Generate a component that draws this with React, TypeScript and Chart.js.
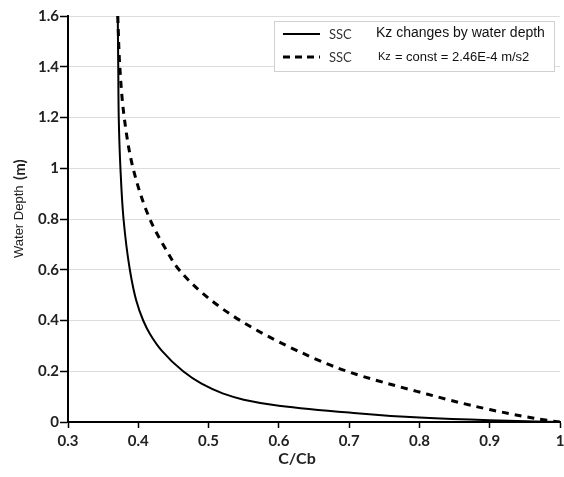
import React, { useEffect, useRef } from "react";
import { Chart, registerables } from "chart.js";

Chart.register(...registerables);

// Solid: SSC, Kz changes by water depth
const solidC = [0.3708, 0.3715, 0.3722, 0.3746, 0.379, 0.388, 0.397, 0.407, 0.4164, 0.433, 0.4638, 0.49, 0.5208, 0.55, 0.6, 0.7, 0.8, 0.9, 1.0];
const solidDepth = [1.6, 1.4, 1.2, 1.0, 0.8, 0.6, 0.48, 0.4, 0.348, 0.2825, 0.2, 0.151, 0.112, 0.088, 0.064, 0.037, 0.0173, 0.0067, 0.0];

// Dashed: SSC, Kz = const
const dashedC = [0.3708, 0.3737, 0.38, 0.3926, 0.4164, 0.44, 0.458, 0.4947, 0.545, 0.625, 0.7, 0.8, 0.9, 0.9815, 1.0];
const dashedDepth = [1.6, 1.4, 1.2, 1.0, 0.8, 0.677, 0.6, 0.5, 0.4, 0.2825, 0.197, 0.118, 0.049, 0.0067, 0.0];

const xTitle = "C/Cb";
const yTitleMain = "Water Depth";
const yTitleUnit = "(m)";
const legendSeries = ["SSC", "SSC"];
const legendDesc = ["Kz changes by water depth", "= const = 2.46E-4 m/s2"];
const legendKz = "Kz";

const toPts = (xs: number[], ys: number[]) => xs.map((x, i) => ({ x, y: ys[i] }));
const fmt = (v: any) => String(Math.round(Number(v) * 10) / 10);

const decorPlugin = {
  id: "decor",
  afterDraw(chart: any) {
    const ctx = chart.ctx as CanvasRenderingContext2D;
    ctx.save();
    // X axis title
    ctx.fillStyle = "#222";
    ctx.font = "bold 16px Lato";
    ctx.textAlign = "center";
    ctx.textBaseline = "middle";
    ctx.fillText(xTitle, 297, 459);

    // Y axis title (mixed font)
    ctx.save();
    ctx.translate(19, 258);
    ctx.rotate(-Math.PI / 2);
    ctx.textAlign = "left";
    ctx.textBaseline = "middle";
    ctx.font = "13px 'Liberation Sans'";
    ctx.fillStyle = "#222";
    ctx.fillText(yTitleMain, 0, 0);
    const w = ctx.measureText(yTitleMain + " ").width;
    ctx.font = "bold 15px Lato";
    ctx.fillText(yTitleUnit, w + 2, 1);
    ctx.restore();

    // Legend box
    const lx = 274, ly = 21, lw = 280, lh = 50;
    ctx.fillStyle = "#fff";
    ctx.fillRect(lx, ly, lw, lh);
    ctx.strokeStyle = "#d0d0d0";
    ctx.lineWidth = 1;
    ctx.strokeRect(lx + 0.5, ly + 0.5, lw, lh);

    const rows = [34, 57];
    rows.forEach((ry, i) => {
      ctx.beginPath();
      ctx.strokeStyle = "#000";
      ctx.lineWidth = i === 0 ? 2 : 3;
      ctx.setLineDash(i === 0 ? [] : [7, 5]);
      ctx.moveTo(283, ry);
      ctx.lineTo(320, ry);
      ctx.stroke();
      ctx.setLineDash([]);
      ctx.fillStyle = "#333";
      ctx.font = "13px Lato";
      ctx.textAlign = "left";
      ctx.textBaseline = "middle";
      ctx.fillText(legendSeries[i], 329, ry + 1);
    });
    ctx.fillStyle = "#111";
    ctx.font = "14px 'Liberation Sans'";
    ctx.fillText(legendDesc[0], 376, rows[0] - 1);
    ctx.font = "11px 'Liberation Sans'";
    ctx.fillText(legendKz, 378, rows[1]);
    const kw = ctx.measureText(legendKz + " ").width;
    ctx.font = "13px 'Liberation Sans'";
    ctx.fillText(legendDesc[1], 378 + kw + 1, rows[1]);
    ctx.restore();
  },
};

export default function App() {
  const ref = useRef<HTMLCanvasElement>(null);
  useEffect(() => {
    document.body.style.margin = "0";
    const chart = new Chart(ref.current!, {
      type: "line",
      data: {
        datasets: [
          {
            label: "SSC Kz changes by water depth",
            data: toPts(solidC, solidDepth),
            borderColor: "#000",
            borderWidth: 2,
            pointRadius: 0,
            fill: false,
            cubicInterpolationMode: "monotone",
          },
          {
            label: "SSC Kz = const",
            data: toPts(dashedC, dashedDepth),
            borderColor: "#000",
            borderWidth: 3,
            borderDash: [7, 6],
            pointRadius: 0,
            fill: false,
            cubicInterpolationMode: "monotone",
          },
        ],
      },
      options: {
        indexAxis: "y",
        animation: false,
        responsive: false,
        maintainAspectRatio: false,
        layout: { padding: { top: 16, right: 4, left: 0, bottom: 0 } },
        plugins: { legend: { display: false }, tooltip: { enabled: false } },
        scales: {
          x: {
            type: "linear",
            min: 0.3,
            max: 1,
            ticks: {
              stepSize: 0.1,
              color: "#222",
              font: { family: "Lato", size: 15, weight: "bold" },
              padding: 4,
              callback: fmt,
            },
            grid: { drawOnChartArea: false, drawTicks: true, tickLength: 6, tickColor: "#000", tickWidth: 1.5 },
            border: { color: "#000", width: 2 },
            afterFit: (s: any) => { s.height = 55; s.paddingRight = 0; s.paddingLeft = 0; },
          },
          y: {
            type: "linear",
            min: 0,
            max: 1.6,
            ticks: {
              stepSize: 0.2,
              color: "#222",
              font: { family: "Lato", size: 15, weight: "bold" },
              padding: 1,
              callback: fmt,
            },
            grid: { color: "#dcdcdc", lineWidth: 1, tickLength: 8, tickColor: "#000", tickWidth: 1.5 },
            border: { color: "#000", width: 2 },
            afterFit: (s: any) => { s.width = 68; },
          },
        },
      },
      plugins: [decorPlugin],
    });
    return () => chart.destroy();
  }, []);
  return (
    <div style={{ position: "fixed", left: 0, top: 0, width: 564, height: 477, background: "#fff" }}>
      <canvas ref={ref} width={564} height={477} style={{ width: 564, height: 477 }} />
    </div>
  );
}
